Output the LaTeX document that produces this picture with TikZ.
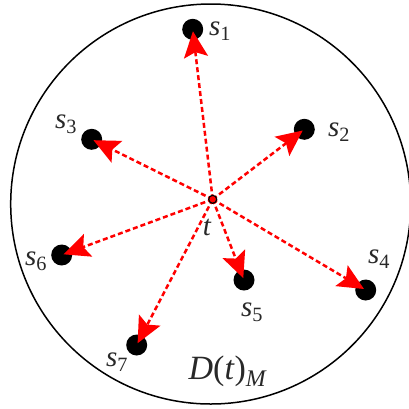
\documentclass[tikz,border=0pt]{standalone}
\usepackage{fontspec}
\setmainfont{Liberation Serif}
\usepackage{tikz}
\usetikzlibrary{
  arrows.meta,
  positioning
}
\definecolor{LinkRed}{RGB}{255, 0, 0}
\definecolor{LabelGray}{RGB}{40, 40, 40}
\tikzset{
    sensor/.style={circle, fill=black, minimum size=21pt, inner sep=0pt},
    target/.style={circle, draw=black, fill=LinkRed, minimum size=8pt, inner sep=0pt, line width=1.2pt},
    link/.style={LinkRed, line width=2.5pt, dash pattern=on 5pt off 3pt,
        -{Stealth[length=26pt, width=24pt, inset=5pt]}, shorten >=2pt},
    lab/.style={font=\fontsize{29}{33}\selectfont\itshape, text=LabelGray, inner sep=0pt}
}
\newcommand{\slab}[1]{s\textsubscript{\upshape #1}}

\begin{document}
\begin{tikzpicture}[x=1pt, y=-1pt]
    \useasboundingbox (0,0) rectangle (409,408);
    % coverage region
    \node[circle, draw=black, line width=1.5pt, minimum size=400pt, inner sep=0pt, outer sep=0pt] (region) at (210.7,204) {};
    \node[font=\fontsize{34}{38}\selectfont, text=LabelGray, inner sep=0pt] (dlab) at (228,371) {\textit{D}(\textit{t})\textsubscript{\textit{M}}};

    % sensors
    \foreach \i/\x/\y/\lx/\ly in {1/192.7/29.3/220/31, 2/304.3/129.3/339/132, 3/91.7/139.3/66/124,
        4/365.7/290/379/259, 5/244/280/252/312, 6/61.7/255/36/261, 7/136.7/345/117/362} {
        \node[sensor] (s\i) at (\x,\y) {};
        \node[lab] (l\i) at (\lx,\ly) {\slab{\i}};
    }

    % target and links
    \coordinate (t) at (212.7,199.3);
    \foreach \i in {1,...,7}
        \draw[link] (t) -- (s\i.center);
    \node[target] (tdot) at (t) {};
    \node[lab] (tlab) at (207,227) {t};
\end{tikzpicture}
\end{document}
